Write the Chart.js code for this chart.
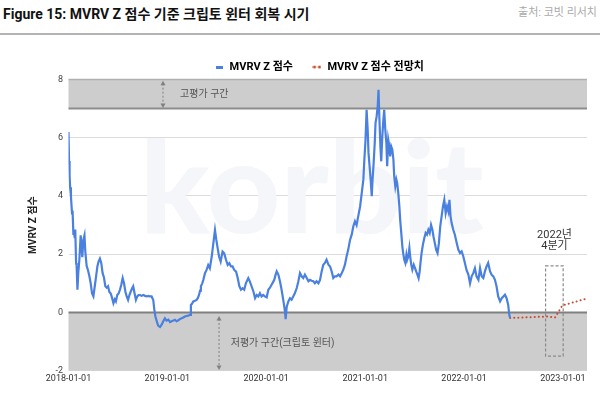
<!DOCTYPE html>
<html lang="ko">
<head>
<meta charset="utf-8">
<script src="https://cdn.jsdelivr.net/npm/chart.js@4.4.1/dist/chart.umd.min.js"></script>
<style>
  html, body { margin: 0; padding: 0; background: #fff; }
  body { width: 600px; height: 394px; overflow: hidden; position: relative; font-family: Roboto, "Noto Sans CJK KR", sans-serif; }
  #title { position: absolute; left: 3px; top: 3px; font-size: 14px; font-weight: 700; color: #111; line-height: 22px; white-space: nowrap; }
  #source { position: absolute; right: 3px; top: 4px; font-size: 11px; color: #aaa; line-height: 18px; }
  #rule { position: absolute; left: 0; top: 33px; width: 600px; height: 2px; background: #b4b4b4; }
  #wrap { position: absolute; left: 0; top: 34px; width: 600px; height: 360px; }
</style>
</head>
<body>
<div id="title">Figure 15: MVRV Z 점수 기준 크립토 윈터 회복 시기</div>
<div id="source">출처: 코빗 리서치</div>
<div id="rule"></div>
<div id="wrap"><canvas id="chart" width="600" height="360"></canvas></div>
<script>
// 날짜는 2018-01-01 기준 경과일
const startDate = '2018-01-01';
const tickDays = [0, 365, 730, 1096, 1461, 1826];
const tickLabels = ['2018-01-01', '2019-01-01', '2020-01-01', '2021-01-01', '2022-01-01', '2023-01-01'];

// MVRV Z 점수 (실측)
const days = [
  0, 2, 4, 6, 9, 13, 15, 18, 20, 23, 25, 28, 30, 33, 36, 40, 45, 49, 51, 55,
  59, 62, 67, 72, 77, 82, 87, 92, 97, 102, 107, 111, 116, 121, 126, 131, 136, 141, 146, 151,
  156, 161, 166, 171, 175, 180, 185, 190, 195, 200, 205, 210, 215, 220, 225, 230, 235, 239, 244, 249,
  254, 259, 264, 270, 276, 283, 289, 295, 301, 307, 313, 317, 321, 326, 331,
  338, 345, 350, 356, 362, 369, 375, 381, 387, 393, 399, 406, 412, 418, 424, 430, 436, 442, 449, 452,
  456, 461, 467, 473, 478, 482, 486, 489, 494, 498, 504, 510, 516, 522, 529, 535, 541, 546, 551, 556,
  562, 569, 575, 582, 588, 594, 600, 606, 612, 619, 625, 631, 637, 643, 649, 655, 664, 670, 676, 683,
  689, 695, 701, 707, 713, 719,
  725, 732, 738, 744, 750, 756, 760, 765, 769, 775, 781, 787, 793, 797, 800, 802, 806, 812, 818, 824,
  830, 836, 843, 849, 855, 861, 867, 873, 880, 886, 892, 898, 904, 910, 916, 923, 929, 935, 941, 947,
  953, 960, 966, 972, 978, 984, 990, 997, 1003, 1009, 1015, 1021, 1027, 1033, 1040, 1046, 1052, 1058,
  1064, 1070, 1077, 1083, 1089, 1092, 1097, 1101, 1105, 1108, 1112, 1116, 1120, 1123, 1127, 1131, 1134, 1138, 1142, 1145,
  1148, 1152, 1155, 1159, 1163, 1166, 1170, 1174, 1177, 1181, 1185, 1188, 1192, 1196, 1200, 1203, 1207, 1211, 1214, 1218,
  1222, 1225, 1229, 1233, 1236, 1240, 1244, 1248, 1251, 1255, 1259, 1262, 1266, 1270, 1275, 1280, 1284, 1289, 1293, 1297,
  1300, 1304, 1309, 1314, 1319, 1324, 1329, 1334, 1339, 1344, 1348, 1353, 1358, 1363, 1368, 1373, 1378, 1383, 1388, 1393,
  1398, 1403, 1407,
  1411, 1415, 1421, 1427, 1434, 1440, 1446, 1452, 1458, 1464, 1470, 1477, 1483, 1489, 1495, 1501, 1507, 1514, 1520, 1526,
  1532, 1538, 1544, 1550, 1557, 1563, 1569, 1575, 1581, 1587, 1594, 1600, 1606, 1612, 1618, 1624, 1628, 1631
];
const mvrv = [
  6.2, 5.2, 4.7, 4.3, 4.0, 3.4, 3.5, 2.7, 2.8, 2.55, 2.85, 1.7, 1.6, 0.78, 1.35, 1.8, 2.65, 2.15, 1.9, 2.5,
  2.65, 2.1, 1.6, 1.45, 1.25, 1.0, 0.65, 0.55, 0.9, 1.25, 1.6, 1.75, 1.85, 1.7, 1.35, 1.2, 0.9, 0.85, 0.9, 0.7,
  0.65, 0.5, 0.32, 0.45, 0.38, 0.6, 0.65, 0.78, 0.95, 1.18, 1.0, 0.72, 0.55, 0.43, 0.6, 0.72, 0.83, 0.9, 0.66, 0.43,
  0.55, 0.6, 0.6, 0.57, 0.6, 0.57, 0.55, 0.57, 0.55, 0.55, 0.43, 0.1, -0.14, -0.3, -0.45,
  -0.5, -0.4, -0.3, -0.2, -0.28, -0.25, -0.33, -0.3, -0.28, -0.25, -0.3, -0.27, -0.22, -0.2, -0.17, -0.14, -0.12, -0.11, -0.08, 0.26,
  0.3, 0.38, 0.4, 0.43, 0.5, 0.6, 0.75, 0.9, 1.0, 1.12, 1.35, 1.46, 1.63, 1.52, 1.92, 2.38, 2.83, 2.49, 2.2, 1.92,
  1.75, 2.09, 2.03, 1.8, 1.63, 1.69, 1.58, 1.58, 1.46, 1.4, 1.18, 0.9, 0.78, 0.83, 0.78, 1.0, 1.18, 1.06, 0.9, 0.72,
  0.49, 0.6, 0.55, 0.66, 0.55, 0.6,
  0.55, 0.52, 0.78, 0.85, 0.95, 1.05, 1.12, 1.3, 1.41, 1.3, 1.07, 0.78, 0.44, 0.2, -0.02, -0.23, 0.2, 0.38, 0.49, 0.44,
  0.55, 0.66, 0.84, 1.07, 1.35, 1.24, 1.18, 1.3, 1.18, 1.07, 1.12, 1.09, 1.07, 1.0, 1.07, 1.0, 1.12, 1.41, 1.64, 1.7,
  1.81, 1.64, 1.58, 1.41, 1.18, 1.24, 1.24, 1.3, 1.24, 1.35, 1.47, 1.64, 1.92, 2.15, 2.5, 2.67, 2.96, 3.13,
  3.0, 3.3, 3.64, 4.1, 4.56, 5.13, 5.93, 6.96, 6.28, 5.48, 5.02, 4.56, 3.99, 4.56, 5.13, 5.82, 6.51, 6.73, 7.08, 7.65,
  6.73, 5.7, 5.19, 6.05, 6.62, 6.96, 6.28, 5.82, 5.02, 5.93, 5.7, 5.36, 5.7, 5.59, 5.25, 4.67, 4.33, 4.56, 4.44, 4.1,
  3.64, 3.18, 2.73, 2.27, 2.04, 1.81, 1.7, 1.98, 1.81, 1.92, 2.21, 1.92, 1.64, 1.47, 1.64, 1.52, 1.41, 1.29, 1.18, 1.41,
  1.7, 2.04, 2.33, 2.55, 2.73, 2.67, 2.84, 2.73, 3.01, 2.84, 2.61, 2.38, 2.15, 2.04, 2.38, 2.96, 3.3, 3.64, 3.87, 3.41,
  3.64, 3.47, 3.87,
  3.3, 3.07, 2.84, 2.67, 2.38, 2.15, 2.04, 2.1, 1.93, 1.7, 1.46, 1.29, 1.0, 1.24, 1.35, 1.52, 1.24, 1.12, 1.52, 1.24,
  1.18, 1.41, 1.58, 1.7, 1.41, 1.29, 1.24, 1.12, 0.89, 0.55, 0.38, 0.49, 0.55, 0.61, 0.49, 0.26, -0.08, -0.19
];

// MVRV Z 점수 전망치
const forecastDays = [1631, 1766, 1797, 1824, 1915];
const forecastValues = [-0.19, -0.14, -0.17, 0.24, 0.48];

const BLUE = '#4a80e0';
const RED = '#cc4a2e';
const FONT = 'Roboto, "Noto Sans CJK KR", sans-serif';

// 범례 마크
function legendMark(draw, w, h) {
    const c = document.createElement('canvas');
    c.width = w; c.height = h;
    draw(c.getContext('2d'));
    return c;
}
const marks = [
    legendMark(g => { g.fillStyle = BLUE; g.fillRect(0, 0, 7, 3); }, 7, 3),
    legendMark(g => {
        g.fillStyle = RED;
        [2, 7].forEach(cx => { g.beginPath(); g.arc(cx, 2, 1.6, 0, Math.PI * 2); g.fill(); });
    }, 9, 4)
];

function arrow(ctx, x, y1, y2) {
    ctx.save();
    ctx.strokeStyle = '#808080';
    ctx.fillStyle = '#808080';
    ctx.lineWidth = 1;
    ctx.setLineDash([2, 2]);
    ctx.beginPath(); ctx.moveTo(x, y1 + 3); ctx.lineTo(x, y2 - 3); ctx.stroke();
    ctx.setLineDash([]);
    ctx.beginPath(); ctx.moveTo(x, y1); ctx.lineTo(x - 2.5, y1 + 4.5); ctx.lineTo(x + 2.5, y1 + 4.5); ctx.fill();
    ctx.beginPath(); ctx.moveTo(x, y2); ctx.lineTo(x - 2.5, y2 - 4.5); ctx.lineTo(x + 2.5, y2 - 4.5); ctx.fill();
    ctx.restore();
}

const decorations = {
    id: 'decorations',
    afterLayout(chart) {
        // 범례를 원본 위치로 살짝 옮김
        chart.legend.left += 12;
        chart.legend.right += 12;
        chart.legend.top += 3;
        chart.legend.bottom += 3;
    },
    beforeDatasetsDraw(chart) {
        const { ctx, chartArea: a, scales: { y } } = chart;
        ctx.save();
        // 워터마크
        ctx.fillStyle = '#f5f6fa';
        ctx.font = '900 128px Lato, sans-serif';
        ctx.textBaseline = 'alphabetic';
        ctx.fillText('korbit', 140, 199);

        // 고평가 / 저평가 구간
        const y8 = y.getPixelForValue(8), y7 = y.getPixelForValue(7);
        const y0 = y.getPixelForValue(0), yb = y.getPixelForValue(-2);
        ctx.fillStyle = '#cdcdcd';
        ctx.fillRect(a.left, y8, a.width, y7 - y8);
        ctx.fillRect(a.left, y0, a.width, yb - y0);
        const hline = (py, color, w) => {
            ctx.strokeStyle = color; ctx.lineWidth = w;
            ctx.beginPath(); ctx.moveTo(a.left, py); ctx.lineTo(a.right, py); ctx.stroke();
        };
        hline(y8, '#b0b0b0', 1.5);
        hline(y7, '#8c8c8c', 2);
        hline(y0, '#808080', 2);
        ctx.restore();
    },
    afterDatasetsDraw(chart) {
        const { ctx, scales: { x, y } } = chart;
        ctx.save();
        // 2022년 4분기 박스
        const bx1 = x.getPixelForValue(1762), bx2 = x.getPixelForValue(1827);
        const by1 = y.getPixelForValue(1.6), by2 = y.getPixelForValue(-1.5);
        ctx.strokeStyle = '#8a8a8a';
        ctx.lineWidth = 1.2;
        ctx.setLineDash([3, 2]);
        ctx.strokeRect(bx1, by1, bx2 - bx1, by2 - by1);
        ctx.setLineDash([]);

        ctx.fillStyle = '#333';
        ctx.font = '11px ' + FONT;
        ctx.textAlign = 'center';
        ctx.textBaseline = 'middle';
        ctx.fillText('2022년', x.getPixelForValue(1795), y.getPixelForValue(2.64));
        ctx.fillText('4분기', x.getPixelForValue(1795), y.getPixelForValue(2.26));

        // 구간 화살표와 설명
        arrow(ctx, x.getPixelForValue(349), y.getPixelForValue(7.96), y.getPixelForValue(7.02));
        arrow(ctx, x.getPixelForValue(556), y.getPixelForValue(-0.12), y.getPixelForValue(-1.98));
        ctx.fillStyle = '#555';
        ctx.font = '10px ' + FONT;
        ctx.textAlign = 'left';
        ctx.fillText('고평가 구간', x.getPixelForValue(412), y.getPixelForValue(7.5));
        ctx.fillText('저평가 구간(크립토 윈터)', x.getPixelForValue(599), y.getPixelForValue(-1.08));
        ctx.restore();
    }
};

new Chart(document.getElementById('chart'), {
    type: 'line',
    data: {
        datasets: [
            {
                label: 'MVRV Z 점수',
                data: days.map((d, i) => ({ x: d, y: mvrv[i] })),
                borderColor: BLUE,
                borderWidth: 2.2,
                pointRadius: 0,
                tension: 0
            },
            {
                label: 'MVRV Z 점수 전망치',
                data: forecastDays.map((d, i) => ({ x: d, y: forecastValues[i] })),
                borderColor: RED,
                borderWidth: 2,
                borderDash: [0.1, 4],
                borderCapStyle: 'round',
                pointRadius: 0,
                tension: 0
            }
        ]
    },
    options: {
        responsive: false,
        animation: false,
        layout: { padding: { left: 27, right: 13, top: 5.5, bottom: 0 } },
        plugins: {
            tooltip: { enabled: false },
            legend: {
                position: 'top',
                labels: {
                    usePointStyle: true,
                    pointStyleWidth: 10,
                    padding: 19,
                    color: '#111',
                    font: { size: 11, weight: 'bold', family: FONT },
                    generateLabels: chart => chart.data.datasets.map((ds, i) => ({
                        text: ds.label,
                        pointStyle: marks[i],
                        fillStyle: ds.borderColor,
                        strokeStyle: ds.borderColor,
                        lineWidth: 0,
                        hidden: false,
                        datasetIndex: i
                    }))
                }
            }
        },
        scales: {
            x: {
                type: 'linear',
                min: 0,
                max: 1915,
                afterBuildTicks: s => { s.ticks = tickDays.map(v => ({ value: v })); },
                afterFit: s => { s.height = 23.3; },
                grid: { display: false, drawTicks: false },
                border: { display: false },
                ticks: {
                    autoSkip: false,
                    maxRotation: 0,
                    padding: 3,
                    color: '#333',
                    font: { size: 9, family: FONT },
                    callback: v => tickLabels[tickDays.indexOf(v)]
                }
            },
            y: {
                min: -2,
                max: 8,
                afterFit: s => { s.width = 41.5; },
                grid: {
                    drawTicks: false,
                    color: c => (c.tick.value === 0 ? '#808080' : '#dcdcdc'),
                    lineWidth: 1
                },
                border: { display: false },
                ticks: {
                    stepSize: 2,
                    padding: 5.5,
                    color: '#444',
                    font: { size: 9, family: FONT }
                },
                title: {
                    display: true,
                    text: 'MVRV Z 점수',
                    color: '#222',
                    padding: 0,
                    font: { size: 10, weight: 'bold', family: FONT }
                }
            }
        }
    },
    plugins: [decorations]
});
</script>
</body>
</html>
